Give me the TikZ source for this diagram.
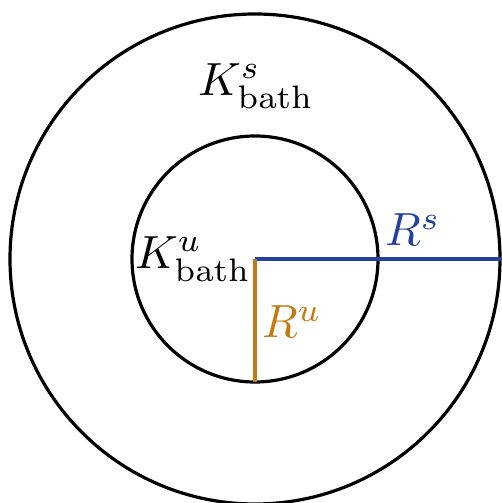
\documentclass[tikz,border=0pt]{standalone}
\definecolor{rblue}{HTML}{2440A0}
\definecolor{rorange}{HTML}{C27A12}
\tikzset{
  ring/.style={draw=black, line width=3.2pt},
  radius line/.style={line width=3.2pt},
  lbl/.style={inner sep=0pt, scale=4.65},
}
\begin{document}
\begin{tikzpicture}[x=1pt,y=-1pt]
\useasboundingbox (0,0) rectangle (501,503);
\coordinate (c) at (255,259);
\coordinate (e) at (501,259);
\coordinate (d) at (255,382);
\draw[ring] (c) circle[radius=245];
\draw[ring] (c) circle[radius=123];
\draw[radius line, rblue] (c) -- (e);
\draw[radius line, rorange] (c) -- (d);
\node[lbl] (ks) at (256,86) {$K^s_{\mathrm{bath}}$};
\node[lbl] (ku) at (193,259) {$K^u_{\mathrm{bath}}$};
\node[lbl, text=rblue] (rs) at (413,230) {$R^s$};
\node[lbl, text=rorange] (ru) at (292,322) {$R^u$};
\end{tikzpicture}
\end{document}
